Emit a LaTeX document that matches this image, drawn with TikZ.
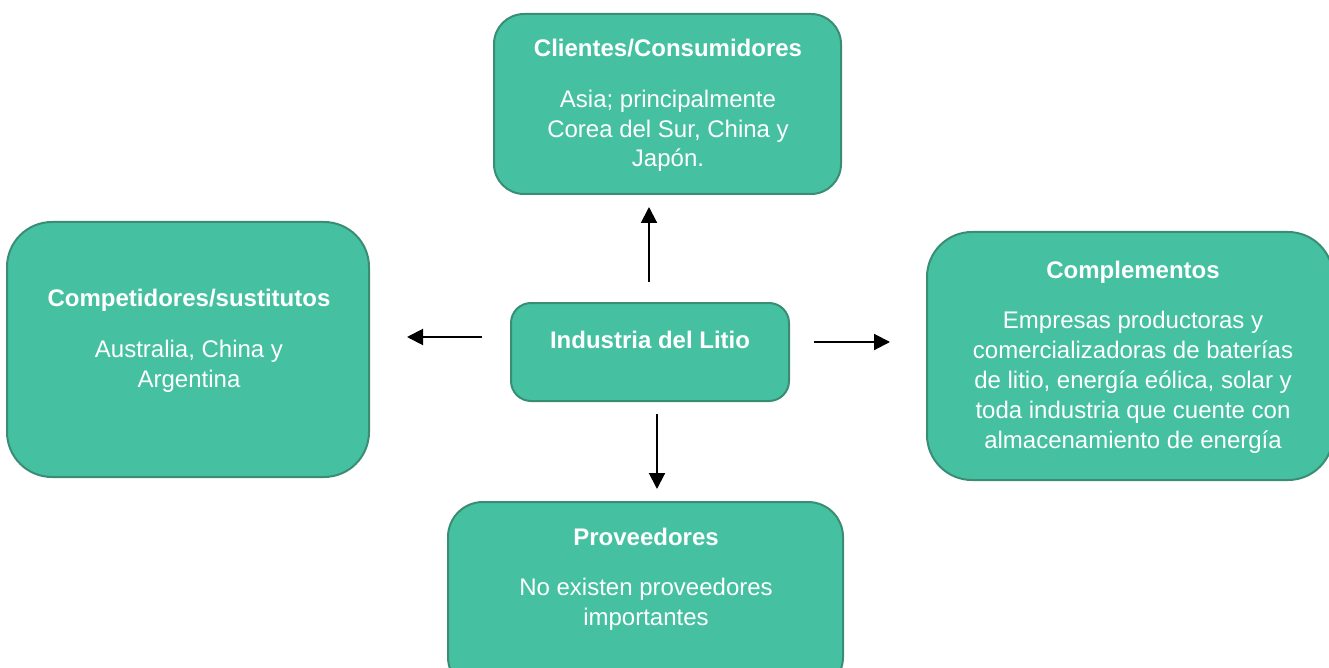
\documentclass[tikz,border=0pt]{standalone}
\usepackage{fontspec}
\setmainfont{Liberation Sans}
\usetikzlibrary{arrows.meta}
\definecolor{boxfill}{HTML}{45C1A2}
\definecolor{boxline}{HTML}{3A8D74}
\begin{document}
\begin{tikzpicture}[x=1pt,y=-1pt,
  box/.style={draw=boxline, fill=boxfill, line width=2pt, rectangle, inner sep=0pt},
  ttl/.style={text=white, font=\fontsize{24}{29}\selectfont\bfseries, anchor=base, inner sep=0pt},
  txt/.style={text=white, font=\fontsize{24}{29}\selectfont, anchor=base, inner sep=0pt},
  arr/.style={line width=2pt, -{Triangle[length=16pt,width=16pt]}}]
\useasboundingbox (0,0) rectangle (1329,668);
% boxes
\node[box, rounded corners=30pt, minimum width=347pt, minimum height=180pt] (cli) at (667.5,104) {};
\node[box, rounded corners=45pt, minimum width=362pt, minimum height=255pt] (com) at (188,349.5) {};
\node[box, rounded corners=20pt, minimum width=278pt, minimum height=98pt] (ind) at (650,352) {};
\node[box, rounded corners=45pt, minimum width=406pt, minimum height=248pt] (cpl) at (1130,356) {};
\node[box, rounded corners=35pt, minimum width=395pt, minimum height=190pt] (pro) at (645.5,597) {};
% texts
\node[ttl] (cliT) at (668,57) {Clientes/Consumidores};
\node[txt] (cli1) at (668,108) {Asia; principalmente};
\node[txt] (cli2) at (668,138) {Corea del Sur, China y};
\node[txt] (cli3) at (668,167) {Japón.};
\node[ttl] (comT) at (189,306) {Competidores/sustitutos};
\node[txt] (com1) at (189,357) {Australia, China y};
\node[txt] (com2) at (189,387) {Argentina};
\node[ttl] (indT) at (650,348) {Industria del Litio};
\node[ttl] (cplT) at (1133,278) {Complementos};
\node[txt] (cpl1) at (1133,328) {Empresas productoras y};
\node[txt] (cpl2) at (1133,358) {comercializadoras de baterías};
\node[txt] (cpl3) at (1133,388) {de litio, energía eólica, solar y};
\node[txt] (cpl4) at (1133,418) {toda industria que cuente con};
\node[txt] (cpl5) at (1133,448) {almacenamiento de energía};
\node[ttl] (proT) at (646,545) {Proveedores};
\node[txt] (pro1) at (646,595) {No existen proveedores};
\node[txt] (pro2) at (646,625) {importantes};
% arrows
\coordinate (upA) at (649,282); \coordinate (upB) at (649,207);
\coordinate (lfA) at (482,337); \coordinate (lfB) at (407,337);
\coordinate (rtA) at (814,342); \coordinate (rtB) at (890,342);
\coordinate (dnA) at (657,414); \coordinate (dnB) at (657,489);
\draw[arr] (upA) -- (upB);
\draw[arr] (lfA) -- (lfB);
\draw[arr] (rtA) -- (rtB);
\draw[arr] (dnA) -- (dnB);
\end{tikzpicture}
\end{document}
